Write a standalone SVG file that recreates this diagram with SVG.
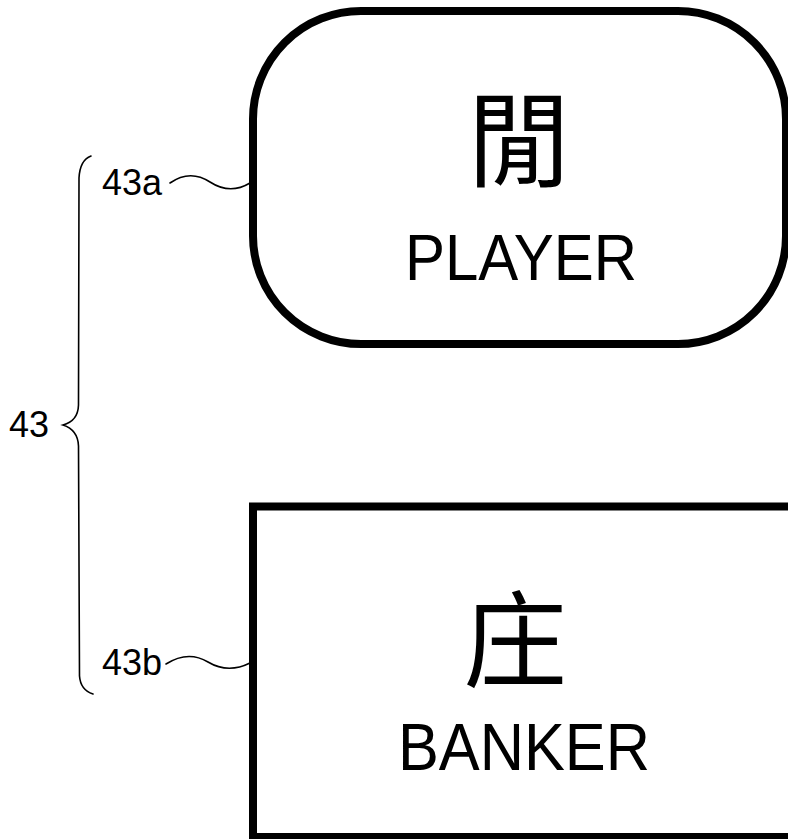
<svg xmlns="http://www.w3.org/2000/svg" width="788" height="839" viewBox="0 0 788 839">
  <style>
    .box { fill: #ffffff; stroke: #000000; stroke-width: 8; }
    .cjk { font-family: "Noto Sans CJK TC", "Noto Sans CJK SC", sans-serif; fill: #000; text-anchor: middle; }
    .en { font-family: "Liberation Sans", Arial, sans-serif; fill: #000; text-anchor: middle; }
    .ref { font-family: "Liberation Sans", Arial, sans-serif; font-size: 36px; fill: #000; }
    .lead { fill: none; stroke: #000; stroke-width: 1.6; stroke-linecap: round; }
  </style>
  <rect width="788" height="839" fill="#ffffff"/>

  <g id="node-player">
    <rect class="box" x="253" y="11" width="533" height="333" rx="108" ry="108"/>
    <text class="cjk" x="519" y="179" font-size="104">閒</text>
    <text class="en" x="521" y="280" font-size="64" textLength="232" lengthAdjust="spacingAndGlyphs">PLAYER</text>
  </g>

  <g id="node-banker">
    <rect class="box" x="253" y="506.5" width="560" height="330.5"/>
    <text class="cjk" x="515" y="679" font-size="104">庄</text>
    <text class="en" x="524" y="770" font-size="67" textLength="252" lengthAdjust="spacingAndGlyphs">BANKER</text>
  </g>

  <g id="connectors">
    <path id="brace-43" class="lead" d="M91,156 Q80,160 79,178 L78.5,405 Q78,421 63,425 Q78,430 78.5,446 L79.5,676 Q80.5,690 93,694"/>
    <path id="lead-43a" class="lead" d="M170,183 Q190,169 210,182 T250,183"/>
    <path id="lead-43b" class="lead" d="M166,664 Q188,650 208,662 T250,663"/>
  </g>

  <g id="labels">
    <text class="ref" x="9" y="437">43</text>
    <text class="ref" x="102" y="195">43a</text>
    <text class="ref" x="102" y="675">43b</text>
  </g>
</svg>
